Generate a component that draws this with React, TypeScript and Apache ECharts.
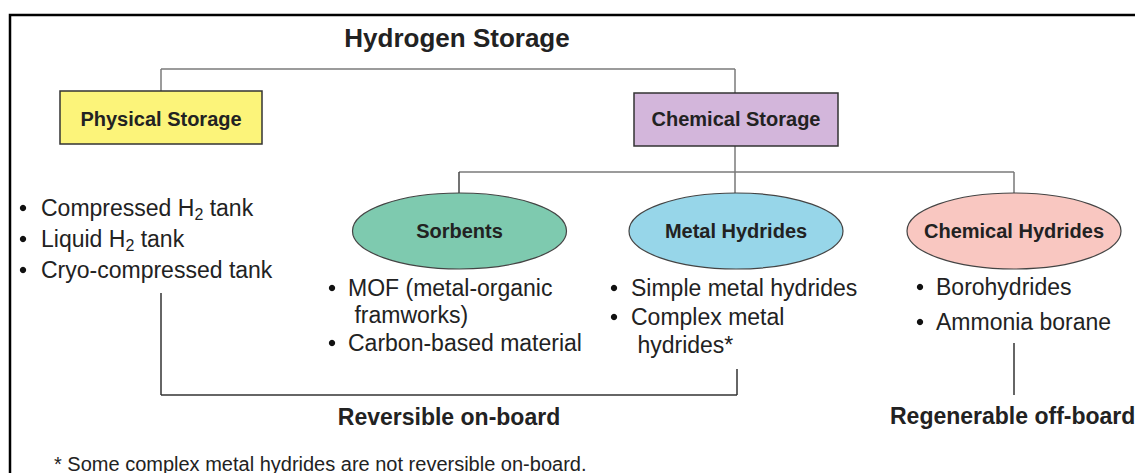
import React, { useEffect, useRef } from "react";
import * as echarts from "echarts";

const title = "Hydrogen Storage";
const topCategories = ["Physical Storage", "Chemical Storage"];
const chemicalCategories = ["Sorbents", "Metal Hydrides", "Chemical Hydrides"];
const physicalItems = [["Compressed H{sub|2} tank"], ["Liquid H{sub|2} tank"], ["Cryo-compressed tank"]];
const sorbentItems = [["MOF (metal-organic", " framworks)"], ["Carbon-based material"]];
const metalItems = [["Simple metal hydrides"], ["Complex metal", " hydrides*"]];
const chemItems = [["Borohydrides"], ["Ammonia borane"]];
const bottomLabels = ["Reversible on-board", "Regenerable off-board"];
const footnote = "* Some complex metal hydrides are not reversible on-board.";

const FONT = "'Liberation Sans', Arial, Helvetica, sans-serif";
const TXT = "#222";

export default function App() {
  const ref = useRef<HTMLDivElement>(null);
  useEffect(() => {
    const chart = echarts.init(ref.current!, null, { renderer: "svg" });
    const g: any[] = [];
    const line = (x1: number, y1: number, x2: number, y2: number, c = "#7a7a7a", w = 1.5) =>
      g.push({ type: "line", shape: { x1, y1, x2, y2 }, style: { stroke: c, lineWidth: w } });
    const text = (t: string, x: number, y: number, size: number, bold = false, align = "left", extra: any = {}) =>
      g.push({
        type: "text",
        x,
        y,
        style: {
          text: t,
          fontSize: size,
          fontWeight: bold ? "bold" : "normal",
          fontFamily: FONT,
          fill: TXT,
          textAlign: align,
          textVerticalAlign: "middle",
          ...extra,
        },
      });
    const sub = { rich: { sub: { fontSize: 16, fontFamily: FONT, fill: TXT, padding: [13, 0, 0, 0] } } };

    // frame
    g.push({ type: "polyline", shape: { points: [[10, 480], [10, 15], [1140, 15]] }, style: { stroke: "#000", lineWidth: 2.5, fill: "none" } });

    text(title, 457, 38, 26, true, "center");

    // connectors top
    line(161, 69, 735, 69);
    line(161, 69, 161, 92);
    line(735, 69, 735, 94);
    line(735, 146, 735, 172);
    line(459, 172, 1014, 172);
    line(459, 172, 459, 193, "#444");
    line(735, 172, 735, 193, "#777");
    line(1014, 172, 1014, 193, "#777");

    // boxes
    const boxes = [
      { x: 60, y: 91, w: 202, h: 53, fill: "#FCF47A" },
      { x: 634, y: 93, w: 204, h: 53, fill: "#D3B6DB" },
    ];
    boxes.forEach((b, i) => {
      g.push({ type: "rect", shape: { x: b.x, y: b.y, width: b.w, height: b.h }, style: { fill: b.fill, stroke: "#333", lineWidth: 1.5 } });
      text(topCategories[i], b.x + b.w / 2, 119, 20, true, "center");
    });

    // ellipses
    const ells = [
      { cx: 459.5, fill: "#7ECAAF" },
      { cx: 736, fill: "#97D6E9" },
      { cx: 1014, fill: "#F9C7C1" },
    ];
    ells.forEach((e, i) => {
      g.push({ type: "ellipse", shape: { cx: e.cx, cy: 231, rx: 107, ry: 38 }, style: { fill: e.fill, stroke: "#444", lineWidth: 1.2 } });
      text(chemicalCategories[i], e.cx, 231, 20, true, "center");
    });

    // lists
    const list = (items: string[][], bx: number, tx: number, ys: number[][]) => {
      items.forEach((it, i) => {
        g.push({ type: "circle", shape: { cx: bx, cy: ys[i][0], r: 3.2 }, style: { fill: "#111" } });
        it.forEach((ln, j) => text(ln, tx, ys[i][j], 23, false, "left", ln.includes("{sub|") ? sub : {}));
      });
    };
    list(physicalItems, 23, 41, [[208], [239], [270]]);
    list(sorbentItems, 332, 348, [[288, 315], [343]]);
    list(metalItems, 614, 631, [[288], [317, 345]]);
    list(chemItems, 920, 936, [[287], [322]]);

    // bottom brackets
    line(161, 293, 161, 395, "#333");
    line(161, 395, 737, 395, "#333");
    line(737, 369, 737, 395, "#333");
    line(1014, 343, 1014, 395, "#333");

    text(bottomLabels[0], 449, 417, 23, true, "center");
    text(bottomLabels[1], 890, 416, 23, true, "left");
    text(footnote, 54, 464, 20, false, "left");

    chart.setOption({ animation: false, graphic: { elements: g } });
    return () => chart.dispose();
  }, []);
  return <div ref={ref} style={{ position: "fixed", left: 0, top: 0, width: 1135, height: 473, background: "#fff" }} />;
}
